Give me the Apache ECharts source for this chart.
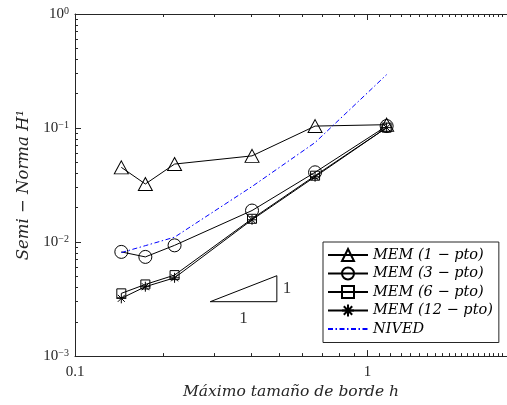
<!DOCTYPE html>
<html><head><meta charset="utf-8">
<script src="https://cdn.jsdelivr.net/npm/echarts@6/dist/echarts.min.js"></script>
<style>html,body{margin:0;padding:0;background:#fff}#c{width:507px;height:405px}</style>
</head><body><div id="c"></div>
<script>
// ---- data ----
const hValues = [0.144, 0.174, 0.219, 0.403, 0.662, 1.163];
const mem1  = [0.0452, 0.0323, 0.0483, 0.0570, 0.104, 0.107];
const mem3  = [0.0082, 0.00741, 0.00936, 0.0189, 0.0409, 0.1041];
const mem6  = [0.00355, 0.00425, 0.00513, 0.0160, 0.0382, 0.1008];
const mem12 = [0.00321, 0.00406, 0.00486, 0.01568, 0.0374, 0.1008];
const nived = [0.00809, 0.0093, 0.01104, 0.0307, 0.0746, 0.294];
const seriesNames = ['MEM (1 − pto)', 'MEM (3 − pto)', 'MEM (6 − pto)', 'MEM (12 − pto)', 'NIVED'];
const slopeX = [0.29, 0.49];
const slopeY = [0.003, 0.00507];
const slopeLabels = ['1', '1'];
const xMajorTicks = [0.1, 1];
const xMinorTicks = [0.2, 0.3, 0.4, 0.5, 0.6, 0.7, 0.8, 0.9,
  1.1, 1.2, 1.3, 1.4, 1.5, 1.6, 1.7, 1.8, 1.9, 2.0,
  2.1, 2.2, 2.3, 2.4, 2.5, 2.6, 2.7, 2.8, 2.9, 3.0];
const xTickLabels = ['0.1', '1'];
const yMajorTicks = [0.001, 0.01, 0.1, 1];
const yMinorTicks = [0.002, 0.003, 0.004, 0.005, 0.006, 0.007, 0.008, 0.009,
  0.02, 0.03, 0.04, 0.05, 0.06, 0.07, 0.08, 0.09,
  0.2, 0.3, 0.4, 0.5, 0.6, 0.7, 0.8, 0.9];
const yTickLabels = ['10{s|−3}', '10{s|−2}', '10{s|−1}', '10{s|0}'];
const xName = 'Máximo tamaño de borde h';
const yName = 'Semi − Norma H¹';

// ---- styling ----
const AX = '#262626';
const SERIF = 'DejaVu Serif';
const pairs = ys => hValues.map((x, i) => [x, ys[i]]);

function xAxisDef(pos, major) {
  return {
    type: 'log', position: pos, min: 0.1, max: 3,
    axisLine: { show: major, lineStyle: { color: AX, width: 1 } },
    axisTick: { show: true, inside: true, length: major ? 6 : 3,
      customValues: major ? xMajorTicks : xMinorTicks, lineStyle: { color: AX, width: 1 } },
    axisLabel: { show: major && pos === 'bottom', customValues: xMajorTicks,
      formatter: v => xTickLabels[xMajorTicks.findIndex(t => Math.abs(t - v) < 1e-9)],
      color: AX, fontFamily: 'Liberation Serif', fontSize: 15, margin: 8 },
    splitLine: { show: false },
    name: (major && pos === 'bottom') ? xName : '',
    nameLocation: 'middle', nameGap: 27,
    nameTextStyle: { fontFamily: SERIF, fontStyle: 'italic', fontSize: 15.5, color: AX }
  };
}
function yAxisDef(major) {
  return {
    type: 'log', position: 'left', min: 0.001, max: 1,
    axisLine: { show: major, lineStyle: { color: AX, width: 1 } },
    axisTick: { show: true, inside: true, length: major ? 6 : 3,
      customValues: major ? yMajorTicks : yMinorTicks, lineStyle: { color: AX, width: 1 } },
    axisLabel: { show: major, customValues: yMajorTicks,
      formatter: v => yTickLabels[yMajorTicks.findIndex(t => Math.abs(t - v) / t < 1e-6)],
      color: AX, fontFamily: 'Liberation Serif', fontSize: 15, margin: 6,
      rich: { s: { fontSize: 10, lineHeight: 8, verticalAlign: 'top', fontFamily: 'Liberation Serif', color: AX } } },
    splitLine: { show: false },
    name: major ? yName : '',
    nameLocation: 'middle', nameGap: 43, nameRotate: 90,
    nameTextStyle: { fontFamily: SERIF, fontStyle: 'italic', fontSize: 16.5, color: AX }
  };
}
function memSeries(name, ys, symbol, size) {
  return {
    name, type: 'line', data: pairs(ys), xAxisIndex: 0, yAxisIndex: 0,
    symbol, symbolSize: size, showAllSymbol: true,
    lineStyle: { color: '#000', width: 1 },
    itemStyle: { color: 'rgba(0,0,0,0)', borderColor: '#000', borderWidth: 1 },
    emphasis: { disabled: true }, z: 3
  };
}
const star = 'path://M10,0L10,20M0,10L20,10M3,3L17,17M3,17L17,3';

const chart = echarts.init(document.getElementById('c'), null, { renderer: 'canvas' });
chart.setOption({
  backgroundColor: '#fff',
  animation: false,
  grid: { left: 75, top: 14, right: 0, bottom: 47, containLabel: false },
  xAxis: [xAxisDef('bottom', true), xAxisDef('bottom', false), xAxisDef('top', true), xAxisDef('top', false)],
  yAxis: [yAxisDef(true), yAxisDef(false)],
  legend: {
    data: seriesNames, orient: 'vertical', left: 323, top: 242,
    itemWidth: 40, itemHeight: 15, itemGap: 3.5, padding: [5.5, 6, 6, 4],
    borderColor: AX, borderWidth: 1, backgroundColor: '#fff',
    textStyle: { fontFamily: SERIF, fontStyle: 'italic', fontSize: 14.5, color: '#000' }
  },
  series: [
    memSeries(seriesNames[0], mem1, 'triangle', [14, 13]),
    memSeries(seriesNames[1], mem3, 'circle', 13),
    memSeries(seriesNames[2], mem6, 'rect', 9),
    memSeries(seriesNames[3], mem12, star, 10),
    { name: seriesNames[4], type: 'line', data: pairs(nived), symbol: 'circle', symbolSize: 0, showSymbol: false,
      lineStyle: { color: '#0000ff', width: 1, type: [5, 2.5, 1.5, 2.5] },
      itemStyle: { color: 'rgba(0,0,0,0)', borderColor: 'rgba(0,0,0,0)', borderWidth: 0 },
      emphasis: { disabled: true }, z: 4 },
    { name: 'slope', type: 'line', symbol: 'none', silent: true,
      data: [[slopeX[0], slopeY[0]], [slopeX[1], slopeY[0]], [slopeX[1], slopeY[1]], [slopeX[0], slopeY[0]]],
      lineStyle: { color: '#000', width: 1 }, z: 2 },
    { name: 'slopeText', type: 'scatter', symbolSize: 0, silent: true,
      data: [
        { value: [slopeX[1], Math.sqrt(slopeY[0] * slopeY[1])], label: { position: 'right', distance: 6 } },
        { value: [Math.sqrt(slopeX[0] * slopeX[1]), slopeY[0]], label: { position: 'bottom', distance: 8 } }
      ],
      label: { show: true, formatter: p => slopeLabels[p.dataIndex], fontFamily: 'Liberation Serif', fontSize: 17, color: '#000' } }
  ]
});
</script></body></html>
